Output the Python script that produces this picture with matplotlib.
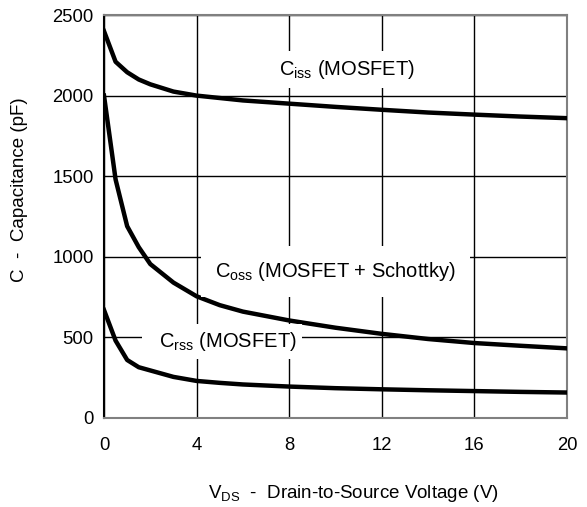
import matplotlib
matplotlib.use("Agg")
import matplotlib.pyplot as plt

plt.rcParams['font.family'] = ['Liberation Sans', 'DejaVu Sans']
plt.rcParams['mathtext.default'] = 'regular'

vds = [0, 0.5, 1, 1.5, 2, 3, 4, 5, 6, 8, 10, 12, 14, 16, 18, 20]
ciss = [2400, 2210, 2145, 2100, 2070, 2025, 2000, 1985, 1970, 1950, 1930, 1912, 1895, 1882, 1870, 1860]
coss = [2000, 1480, 1190, 1060, 955, 840, 755, 700, 660, 605, 560, 522, 490, 465, 448, 432]
crss = [670, 480, 360, 315, 295, 255, 230, 218, 208, 195, 185, 178, 172, 167, 162, 158]

xticks = [0, 4, 8, 12, 16, 20]
yticks = [0, 500, 1000, 1500, 2000, 2500]

fig = plt.figure(figsize=(5.87, 5.07), dpi=100)
ax = fig.add_axes([104/587, 89/507, 463/587, 403/507])

ax.set_xlim(0, 20)
ax.set_ylim(0, 2500)
ax.set_xticks(xticks)
ax.set_yticks(yticks)
ax.grid(True, color='black', lw=1.0)
ax.set_axisbelow(True)
ax.tick_params(length=0, labelsize=13.3, colors='black')
ax.tick_params(axis='x', pad=14)
ax.tick_params(axis='y', pad=7.5)

for s in ['top', 'right', 'bottom']:
    ax.spines[s].set_color('#808080')
    ax.spines[s].set_linewidth(1.5)
ax.spines['left'].set_color('black')
ax.spines['left'].set_linewidth(1.5)

for ys in (ciss, coss, crss):
    ax.plot(vds, ys, color='black', lw=3.2, solid_joinstyle='round', zorder=3)

fs = 14.5
ax.text(10.5, 2128, 'C$_{iss}$ (MOSFET)', ha='center', va='baseline', fontsize=fs,
        bbox=dict(facecolor='white', edgecolor='none', pad=5), zorder=4)
ax.text(10.0, 875, 'C$_{oss}$ (MOSFET + Schottky)', ha='center', va='baseline', fontsize=fs,
        bbox=dict(facecolor='white', edgecolor='none', pad=10), zorder=4)
ax.text(5.1, 440, '  C$_{rss}$ (MOSFET)', ha='center', va='baseline', fontsize=fs,
        bbox=dict(facecolor='white', edgecolor='none', pad=4), zorder=4)

fig.text(20/587, 1 - 190/507, 'C  -  Capacitance (pF)', rotation=90, ha='center', va='center', fontsize=13.5)
fig.text(353/587, 1 - 498/507, 'V$_{DS}$  -  Drain-to-Source Voltage (V)', ha='center', va='baseline', fontsize=13.5)

fig.savefig('out.png', dpi=100)
